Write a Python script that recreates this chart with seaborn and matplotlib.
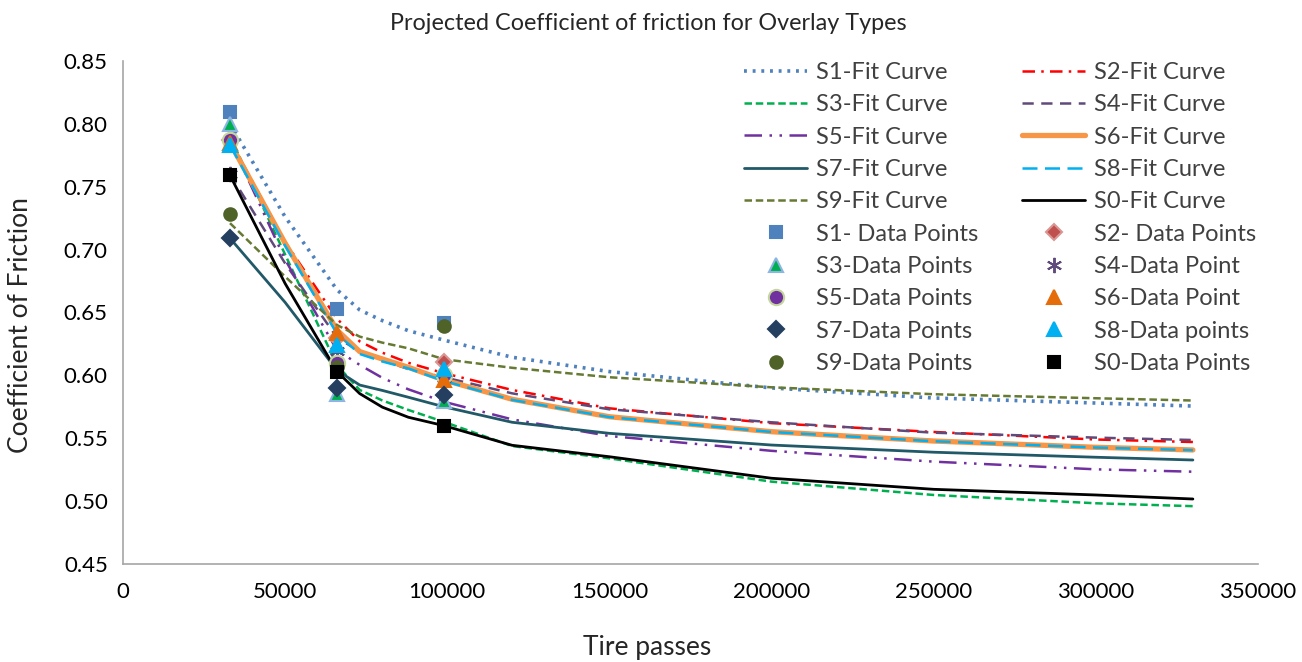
import numpy as np
import pandas as pd
import matplotlib
matplotlib.use('Agg')
import matplotlib.pyplot as plt
import seaborn as sns

curve_x = [33000, 50000, 66000, 73000, 80000, 88000, 99000, 120000, 150000, 200000, 250000, 300000, 330000]

# Fit curve values
s1_fit = [0.800, 0.726, 0.668, 0.652, 0.6435, 0.6355, 0.628, 0.6144, 0.603, 0.590, 0.582, 0.578, 0.5756]
s2_fit = [0.787, 0.706, 0.645, 0.627, 0.618, 0.610, 0.6017, 0.5884, 0.5738, 0.562, 0.555, 0.549, 0.547]
s3_fit = [0.790, 0.696, 0.608, 0.5884, 0.580, 0.5725, 0.563, 0.5438, 0.534, 0.5155, 0.5049, 0.4983, 0.496]
s4_fit = [0.760, 0.689, 0.630, 0.619, 0.612, 0.605, 0.5985, 0.5857, 0.573, 0.5627, 0.5544, 0.5505, 0.5486]
s5_fit = [0.787, 0.692, 0.620, 0.6083, 0.598, 0.5889, 0.579, 0.565, 0.5518, 0.540, 0.5314, 0.5253, 0.5234]
s6_fit = [0.785, 0.705, 0.636, 0.6189, 0.613, 0.6064, 0.5963, 0.581, 0.5671, 0.5552, 0.5478, 0.5428, 0.5407]
s7_fit = [0.709, 0.658, 0.604, 0.5923, 0.588, 0.5826, 0.575, 0.5627, 0.5539, 0.5446, 0.5389, 0.5349, 0.5327]
s8_fit = [0.783, 0.703, 0.633, 0.617, 0.611, 0.6055, 0.5955, 0.5805, 0.5668, 0.555, 0.5476, 0.5426, 0.5405]
s9_fit = [0.721, 0.6785, 0.640, 0.6308, 0.626, 0.6215, 0.6128, 0.606, 0.5985, 0.5905, 0.585, 0.5818, 0.580]
s0_fit = [0.759, 0.673, 0.603, 0.5855, 0.5747, 0.5667, 0.560, 0.5444, 0.5353, 0.5182, 0.5094, 0.5049, 0.5017]

# Measured data points
point_x = [33000, 66000, 99000]
s1_pts = [0.809, 0.653, 0.642]
s2_pts = [0.787, 0.630, 0.611]
s3_pts = [0.800, 0.585, 0.580]
s4_pts = [0.760, 0.619, 0.598]
s5_pts = [0.787, 0.610, 0.600]
s6_pts = [0.785, 0.634, 0.596]
s7_pts = [0.709, 0.590, 0.584]
s8_pts = [0.783, 0.624, 0.605]
s9_pts = [0.728, 0.607, 0.639]
s0_pts = [0.759, 0.603, 0.560]

fit_labels = ['S1-Fit Curve', 'S2-Fit Curve', 'S3-Fit Curve', 'S4-Fit Curve', 'S5-Fit Curve',
              'S6-Fit Curve', 'S7-Fit Curve', 'S8-Fit Curve', 'S9-Fit Curve', 'S0-Fit Curve']
pts_labels = ['S1- Data Points', 'S2- Data Points', 'S3-Data Points', 'S4-Data Point', 'S5-Data Points',
              'S6-Data Point', 'S7-Data Points', 'S8-Data points', 'S9-Data Points', 'S0-Data Points']

fits = [s1_fit, s2_fit, s3_fit, s4_fit, s5_fit, s6_fit, s7_fit, s8_fit, s9_fit, s0_fit]
pts = [s1_pts, s2_pts, s3_pts, s4_pts, s5_pts, s6_pts, s7_pts, s8_pts, s9_pts, s0_pts]

# line styles: colour, dash pattern, width
line_styles = [
    ('#4F81BD', (0, (0.8, 1.6)), 2.6),
    ('#FF0000', (0, (5, 2.5, 1, 2.5)), 1.8),
    ('#00B050', (0, (3, 1.5)), 1.8),
    ('#604A7B', (0, (4.5, 3)), 1.8),
    ('#7030A0', (0, (7, 3, 1, 3, 1, 3)), 1.8),
    ('#F79646', '-', 3.8),
    ('#215968', '-', 2.0),
    ('#00B0F0', (0, (6, 3)), 1.8),
    ('#667A34', (0, (3, 1.5)), 1.8),
    ('#000000', '-', 2.0),
]

# marker styles: marker, face, edge, size
marker_styles = [
    ('s', '#4F81BD', '#4F81BD', 8),
    ('D', '#C0504D', '#D99694', 8),
    ('^', '#00B050', '#8EB4E3', 10),
    ((6, 2, 0), '#604A7B', '#604A7B', 11),
    ('o', '#7030A0', '#C3D69B', 11),
    ('^', '#E46C0A', '#E46C0A', 10),
    ('D', '#243F60', '#243F60', 8),
    ('^', '#00B0F0', '#00B0F0', 10),
    ('o', '#4F6228', '#4F6228', 9),
    ('s', '#000000', '#000000', 8),
]

sns.set_style('white')
plt.rcParams['font.family'] = ['Lato', 'DejaVu Sans']

fig, ax = plt.subplots(figsize=(13.02, 6.62), dpi=100)
fig.subplots_adjust(left=0.0945, right=0.966, bottom=0.148, top=0.908)

line_handles = []
for ys, lab, (c, ls, lw) in zip(fits, fit_labels, line_styles):
    sns.lineplot(x=curve_x, y=ys, ax=ax, color=c, linestyle=ls, linewidth=lw, sort=False, label=lab)
    line_handles.append(ax.get_lines()[-1])

point_handles = []
for ys, lab, (m, fc, ec, ms) in zip(pts, pts_labels, marker_styles):
    h, = ax.plot(point_x, ys, linestyle='none', marker=m, markerfacecolor=fc, markeredgecolor=ec,
                 markersize=ms, markeredgewidth=1.5 if m != (6, 2, 0) else 1.4, label=lab, zorder=5)
    point_handles.append(h)

ax.set_xlim(0, 350000)
ax.set_ylim(0.45, 0.85)
ax.set_xticks(np.arange(0, 350001, 50000))
ax.set_yticks(np.arange(0.45, 0.851, 0.05))
ax.set_yticklabels([f'{v:.2f}' for v in np.arange(0.45, 0.851, 0.05)])
ax.tick_params(axis='both', labelsize=16, colors='#000000')
ax.tick_params(axis='y', direction='out', length=5, width=1, color='#A6A6A6', pad=6)
ax.tick_params(axis='x', length=0, pad=13)

for s in ['top', 'right']:
    ax.spines[s].set_visible(False)
for s in ['left', 'bottom']:
    ax.spines[s].set_color('#A6A6A6')
    ax.spines[s].set_linewidth(1.2)

ax.set_title('Projected Coefficient of friction for Overlay Types', fontsize=16.8, pad=22, x=0.4626)
ax.set_xlabel('Tire passes', fontsize=19)
ax.set_ylabel('Coefficient of Friction', fontsize=19)
ax.xaxis.set_label_coords(0.4617, -0.142)
ax.yaxis.set_label_coords(-0.079, 0.475)

# legend is filled column by column: odd series left, even series right
order_left = [0, 2, 4, 6, 8]
order_right = [1, 3, 5, 7, 9]
handles = [line_handles[i] for i in order_left] + [point_handles[i] for i in order_left] + \
          [line_handles[i] for i in order_right] + [point_handles[i] for i in order_right]
labels = [h.get_label() for h in handles]
leg = ax.legend(handles, labels, ncol=2, loc='upper right', bbox_to_anchor=(1.017, 1.04),
                frameon=False, fontsize=17, handlelength=2.7, columnspacing=1.85,
                labelspacing=0.48, handletextpad=0.35, labelcolor='#404040')

fig.savefig('out.png', dpi=100)
